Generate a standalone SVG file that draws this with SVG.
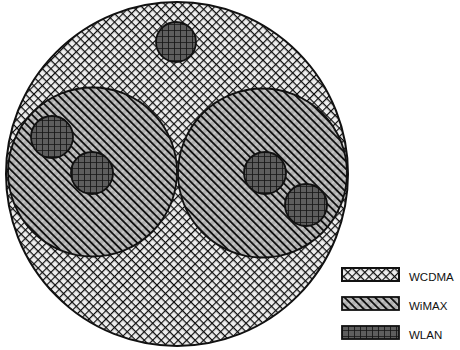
<svg xmlns="http://www.w3.org/2000/svg" width="460" height="350" viewBox="0 0 460 350">
<defs>
<pattern id="pWCDMA" width="6" height="6" patternUnits="userSpaceOnUse" patternTransform="rotate(45)">
<rect width="6" height="6" fill="#eeeeee"/>
<path d="M0 0V6M0 0H6" stroke="#0d0d0d" stroke-width="2.3" fill="none"/>
</pattern>
<pattern id="pWiMAX" width="5.4" height="5.4" patternUnits="userSpaceOnUse" patternTransform="rotate(-45)">
<rect width="5.4" height="5.4" fill="#b0b0b0"/>
<path d="M0 2.7H5.4" stroke="#f0f0f0" stroke-width="0.6" fill="none"/>
<path d="M0.9 0V5.4" stroke="#111" stroke-width="1.9" fill="none"/>
</pattern>
<pattern id="pWLAN" width="6" height="6" patternUnits="userSpaceOnUse">
<rect width="6" height="6" fill="#5e5e5e"/>
<path d="M0 0V6M0 0H6" stroke="#151515" stroke-width="1.7" fill="none"/>
</pattern>
<style>
.wc{fill:url(#pWCDMA);stroke:#111;stroke-width:2}
.wm{fill:url(#pWiMAX);stroke:#111;stroke-width:1.8}
.wl{fill:url(#pWLAN);stroke:#111;stroke-width:1.8}
.lbl{font-family:"Liberation Sans",Arial,sans-serif;font-size:11.5px;fill:#111}
</style>
</defs>
<g id="wcdma">
<ellipse class="wc" cx="177" cy="174" rx="171" ry="172"/>
</g>
<g id="wimax-left">
<circle class="wm" cx="92.5" cy="172" r="84.5"/>
</g>
<g id="wimax-right">
<circle class="wm" cx="262.5" cy="173" r="84.5"/>
</g>
<g id="wlan-top"><circle class="wl" cx="176" cy="42" r="20"/></g>
<g id="wlan-l1"><circle class="wl" cx="52" cy="137" r="21"/></g>
<g id="wlan-l2"><circle class="wl" cx="92" cy="173" r="21"/></g>
<g id="wlan-r1"><circle class="wl" cx="265" cy="173" r="21"/></g>
<g id="wlan-r2"><circle class="wl" cx="306" cy="205" r="21"/></g>
<g id="connectors"/>
<g id="legend">
<rect class="wc" x="342" y="268" width="57" height="13" stroke-width="1"/>
<text class="lbl" x="409" y="281">WCDMA</text>
<rect class="wm" x="342" y="297" width="57" height="13" stroke-width="1"/>
<text class="lbl" x="409" y="310">WiMAX</text>
<rect class="wl" x="342" y="326" width="57" height="13" stroke-width="1"/>
<text class="lbl" x="409" y="339">WLAN</text>
</g>
</svg>
